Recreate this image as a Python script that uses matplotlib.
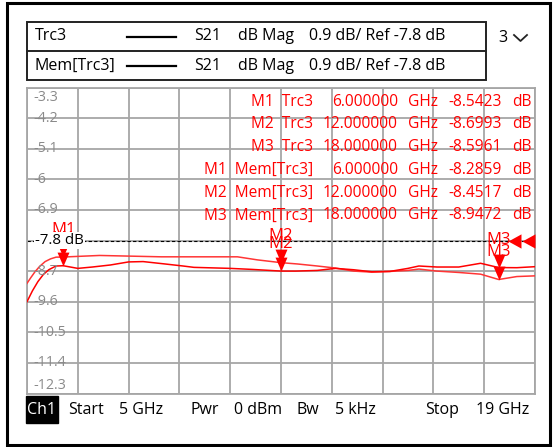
import matplotlib.pyplot as plt
import matplotlib.transforms as mtransforms
from matplotlib.patches import Rectangle
from matplotlib.lines import Line2D
from matplotlib.path import Path

plt.rcParams['font.family'] = ['Open Sans', 'DejaVu Sans']

# trace data (GHz, dB)
trc_freq = [5.0, 5.15, 5.3, 5.45, 5.6, 5.8, 6.0, 6.4, 6.8, 7.3, 7.8, 8.2, 8.8,
            9.3, 9.6, 10.6, 11.2, 12.0, 12.4, 13.0, 13.5, 14.0, 14.5, 15.0,
            15.5, 15.8, 16.3, 16.9, 17.5, 18.0, 18.5, 19.0]
trc_db = [-9.60, -9.28, -9.01, -8.80, -8.66, -8.55, -8.5423, -8.62, -8.58,
          -8.52, -8.43, -8.42, -8.49, -8.55, -8.59, -8.62, -8.65, -8.6993,
          -8.70, -8.68, -8.62, -8.66, -8.72, -8.71, -8.62, -8.55, -8.58,
          -8.58, -8.47, -8.5961, -8.60, -8.57]

mem_freq = [5.0, 5.1, 5.22, 5.35, 5.5, 5.65, 5.8, 6.0, 7.0, 8.7, 10.8, 11.35,
            12.0, 12.45, 13.0, 13.5, 14.0, 14.5, 15.0, 15.5, 15.8, 16.3, 16.9,
            17.5, 18.0, 18.5, 19.0]
mem_db = [-9.06, -8.90, -8.72, -8.56, -8.42, -8.34, -8.29, -8.2859, -8.24,
          -8.28, -8.28, -8.37, -8.4517, -8.49, -8.55, -8.61, -8.70, -8.73,
          -8.71, -8.68, -8.64, -8.70, -8.74, -8.79, -8.9472, -8.86, -8.84]

# markers
mk_names = ['M1', 'M2', 'M3']
mk_freq = [6.0, 12.0, 18.0]
mk_trc = [-8.5423, -8.6993, -8.5961]
mk_mem = [-8.2859, -8.4517, -8.9472]
mk_freq_txt = ['6.000000', '12.000000', '18.000000']
mk_trc_txt = ['-8.5423', '-8.6993', '-8.5961']
mk_mem_txt = ['-8.2859', '-8.4517', '-8.9472']

ref_level = -7.8
y_ticks = [-3.3, -4.2, -5.1, -6, -6.9, -7.8, -8.7, -9.6, -10.5, -11.4, -12.3]
x_grid = [5, 6.4, 7.8, 9.2, 10.6, 12, 13.4, 14.8, 16.2, 17.6, 19]

legend_rows = ['Trc3', 'Mem[Trc3]']
status = [('Start', 68), ('5 GHz', 119), ('Pwr', 191), ('0 dBm', 234),
          ('Bw', 297), ('5 kHz', 335), ('Stop', 425), ('19 GHz', 476)]

W, H = 558, 447
fig = plt.figure(figsize=(W / 100, H / 100), dpi=100)


def fx(x):
    return x / W


def fy(y):
    return 1 - y / H


RED = '#ff0000'
GRID = '#a6a6a6'

ax = fig.add_axes([fx(27), fy(393.5), 508 / W, 306 / H])
ax.set_xlim(5, 19)
ax.set_ylim(-12.3, -3.3)
ax.set_xticks(x_grid)
ax.set_yticks(y_ticks)
ax.tick_params(length=0, labelbottom=False, labelleft=False)
ax.grid(True, color=GRID, lw=1.3)
for s in ax.spines.values():
    s.set_color(GRID)
    s.set_linewidth(1.3)

ax.plot(mem_freq, mem_db, color='#ff3535', lw=1.1, zorder=3)
ax.plot(trc_freq, trc_db, color=RED, lw=1.1, zorder=3)

# reference line
ax.axhline(ref_level, color='black', lw=0.8, ls=(0, (3, 2)), zorder=2)

# y labels (gray, inside plot)
ylab_trans = mtransforms.blended_transform_factory(ax.transAxes, ax.transData)
for v in y_ticks:
    if v == ref_level:
        continue
    lab = '%g' % v
    if v == -3.3:
        ax.annotate(lab, (0.012, v), xycoords=ylab_trans, xytext=(0, -7),
                    textcoords='offset points', va='center', ha='left',
                    color='#8a8a8a', fontsize=10.3)
    elif v == -12.3:
        ax.annotate(lab, (0.012, v), xycoords=ylab_trans, xytext=(0, 6),
                    textcoords='offset points', va='center', ha='left',
                    color='#8a8a8a', fontsize=10.3)
    else:
        ax.text(0.012, v, lab, transform=ylab_trans, va='center', ha='left',
                color='#8a8a8a', fontsize=10.3)

# marker triangles (tip at the data point)
tri_down = Path([(0, 0), (-0.43, 1), (0.43, 1), (0, 0)],
                [Path.MOVETO, Path.LINETO, Path.LINETO, Path.CLOSEPOLY])
for vals in (mk_trc, mk_mem):
    ax.plot(mk_freq, vals, ls='none', marker=tri_down, ms=20, color=RED,
            mec='none', zorder=4)
    for name, f, v in zip(mk_names, mk_freq, vals):
        ax.annotate(name, (f, v), xytext=(0, 19.5), textcoords='offset points',
                    ha='center', va='center', color=RED, fontsize=12, zorder=4)

# reference level arrows at right
tri_left = Path([(0, 0), (1, 0.55), (1, -0.55), (0, 0)],
                [Path.MOVETO, Path.LINETO, Path.LINETO, Path.CLOSEPOLY])
ax.plot([0.947, 0.974], [ref_level, ref_level], transform=ylab_trans,
        ls='none', marker=tri_left, ms=18.7, color=RED, mec='none',
        clip_on=False, zorder=5)

# ref label
fig.text(fx(35), fy(240.5), '-7.8 dB', ha='left', va='center', fontsize=10.8,
         color='black', zorder=6,
         bbox=dict(facecolor='white', edgecolor='none', pad=0.8))

# marker table
rows = []
for i in range(3):
    rows.append((mk_names[i] + '  Trc3', mk_freq_txt[i], mk_trc_txt[i]))
for i in range(3):
    rows.append((mk_names[i] + '  Mem[Trc3]', mk_freq_txt[i], mk_mem_txt[i]))
for i, (lab, fr, val) in enumerate(rows):
    y = fy(101.5 + i * 22.8)
    kw = dict(va='center', color=RED, fontsize=11.2, zorder=6)
    fig.text(fx(313), y, lab, ha='right', **kw)
    fig.text(fx(398), y, fr, ha='right', **kw)
    fig.text(fx(408), y, 'GHz', ha='left', **kw)
    fig.text(fx(502), y, val, ha='right', **kw)
    fig.text(fx(512), y, 'dB', ha='left', **kw)

# legend box
fig.add_artist(Rectangle((fx(27), fy(80)), (486 - 27) / W, (80 - 22) / H,
                         transform=fig.transFigure, fill=False,
                         ec='#222222', lw=1.4))
fig.add_artist(Line2D([fx(27), fx(486)], [fy(51), fy(51)],
                      transform=fig.transFigure, color='#222222', lw=1.4))
for i, name in enumerate(legend_rows):
    y = fy(36.5 + i * 29)
    fig.text(fx(35), y, name, ha='left', va='center', fontsize=11.5)
    fig.add_artist(Line2D([fx(127), fx(176)], [y, y],
                          transform=fig.transFigure, color='black', lw=1.6))
    fig.text(fx(194), y, 'S21', ha='left', va='center', fontsize=11.5)
    fig.text(fx(238), y, 'dB Mag', ha='left', va='center', fontsize=11.5)
    fig.text(fx(309), y, '0.9 dB/ Ref -7.8 dB', ha='left', va='center',
             fontsize=11.5)
fig.text(fx(498), fy(37.5), '3', ha='left', va='center', fontsize=11.5)
# dropdown chevron
fig.add_artist(Line2D([fx(514), fx(520.5), fx(527)], [fy(35), fy(41), fy(35)],
                      transform=fig.transFigure, color='#222222', lw=1.3))

# status bar
fig.add_artist(Rectangle((fx(26), fy(423)), 32 / W, 27 / H,
                         transform=fig.transFigure, color='black'))
fig.text(fx(42), fy(410), 'Ch1', ha='center', va='center', fontsize=11.5,
         color='white')
for txt, x in status:
    fig.text(fx(x), fy(410), txt, ha='left', va='center', fontsize=11.5)

# outer frame
fig.add_artist(Rectangle((fx(6.5), fy(444.5)), (550 - 6.5) / W, (444.5 - 3) / H,
                         transform=fig.transFigure, fill=False,
                         ec='black', lw=2.2))

fig.savefig('out.png', dpi=100)
